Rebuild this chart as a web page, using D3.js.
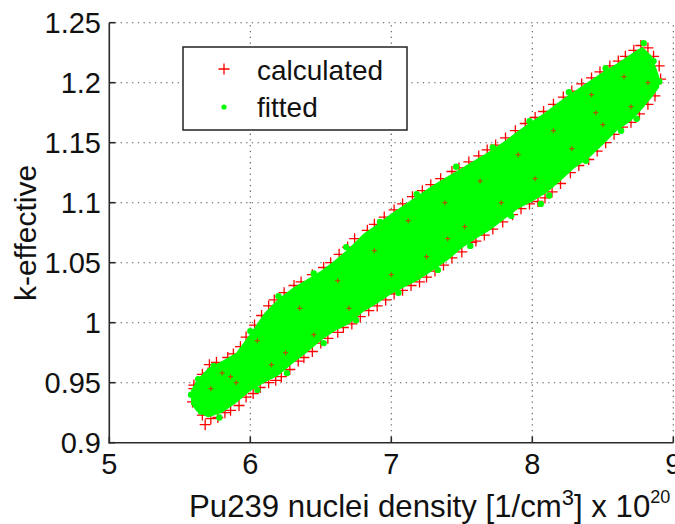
<!DOCTYPE html>
<html>
<head>
<meta charset="utf-8">
<script src="https://cdn.jsdelivr.net/npm/d3@7"></script>
<style>
  html, body { margin: 0; padding: 0; background: #fff; }
  svg { display: block; font-family: "Liberation Sans", Arial, sans-serif; }
</style>
</head>
<body>
<svg id="chart" width="675" height="524"></svg>
<script>
// ---- Data ----
const xTicks = [5, 6, 7, 8, 9];
const yTicks = [0.9, 0.95, 1.0, 1.05, 1.1, 1.15, 1.2, 1.25];
const yTickLabels = ["0.9", "0.95", "1", "1.05", "1.1", "1.15", "1.2", "1.25"];

// envelope of the dense "fitted" cloud (x, lower k, upper k)
const bandX    = [5.58, 5.62, 5.70, 5.80, 5.90, 6.00, 6.10, 6.20, 6.30, 6.40, 6.50, 6.60, 6.70, 6.80, 6.90, 7.00, 7.10, 7.20, 7.30, 7.40, 7.50, 7.60, 7.70, 7.80, 7.90, 8.00, 8.10, 8.20, 8.30, 8.40, 8.50, 8.60, 8.70, 8.78, 8.85, 8.90];
const bandLow  = [0.932, 0.926, 0.921, 0.925, 0.933, 0.943, 0.950, 0.956, 0.966, 0.975, 0.985, 0.993, 0.999, 1.009, 1.016, 1.024, 1.030, 1.036, 1.044, 1.052, 1.062, 1.070, 1.077, 1.086, 1.095, 1.101, 1.108, 1.118, 1.129, 1.137, 1.148, 1.160, 1.168, 1.178, 1.188, 1.196];
const bandHigh = [0.944, 0.952, 0.962, 0.968, 0.975, 0.991, 1.008, 1.020, 1.029, 1.036, 1.043, 1.052, 1.062, 1.074, 1.082, 1.091, 1.099, 1.107, 1.115, 1.122, 1.129, 1.136, 1.143, 1.151, 1.160, 1.168, 1.176, 1.185, 1.193, 1.201, 1.209, 1.216, 1.224, 1.230, 1.222, 1.205];

// calculated points visible around the cloud edges
const calcX = [5.60,5.66,5.71,5.76,5.84,5.88,5.93,5.97,6.03,6.08,6.13,6.17,6.24,6.31,6.36,6.44,6.52,6.57,6.63,6.69,6.74,6.83,6.88,6.95,7.02,7.08,7.15,7.22,7.28,7.35,7.43,7.48,7.55,7.62,7.68,7.74,7.81,7.88,7.95,8.02,8.08,8.15,8.22,8.28,8.35,8.42,8.48,8.55,8.61,8.66,8.72,8.77,8.82,8.86,8.90,8.91,
  5.62,5.66,5.68,5.72,5.77,5.82,5.86,5.92,5.97,6.02,6.07,6.13,6.18,6.22,6.28,6.34,6.38,6.44,6.50,6.55,6.62,6.66,6.72,6.78,6.84,6.90,6.96,7.02,7.08,7.14,7.20,7.25,7.31,7.37,7.43,7.50,7.57,7.60,7.66,7.72,7.79,7.86,7.92,7.98,8.04,8.09,8.14,8.20,8.27,8.33,8.40,8.46,8.52,8.58,8.64,8.70,8.76,8.82,8.87,
  5.61,5.60,5.59,5.70,5.75];
const calcK = [0.948,0.957,0.965,0.967,0.971,0.974,0.980,0.988,0.998,1.006,1.014,1.019,1.025,1.031,1.034,1.040,1.046,1.050,1.057,1.063,1.070,1.077,1.082,1.088,1.094,1.099,1.105,1.110,1.115,1.120,1.126,1.129,1.134,1.139,1.144,1.148,1.154,1.160,1.166,1.171,1.176,1.182,1.188,1.193,1.199,1.204,1.209,1.214,1.218,1.222,1.227,1.231,1.229,1.222,1.214,1.203,
  0.932,0.923,0.915,0.920,0.921,0.925,0.927,0.931,0.938,0.941,0.946,0.950,0.952,0.955,0.961,0.968,0.971,0.976,0.983,0.987,0.992,0.996,0.999,1.005,1.010,1.014,1.019,1.024,1.027,1.031,1.034,1.038,1.043,1.048,1.054,1.059,1.067,1.068,1.073,1.078,1.084,1.090,1.095,1.099,1.101,1.104,1.109,1.116,1.125,1.131,1.136,1.143,1.150,1.157,1.163,1.167,1.174,1.182,1.189,
  0.940,0.945,0.934,0.958,0.962];

// calculated points peeking through the inside of the cloud
const innerCalcX = [5.72,5.80,5.86,5.90,6.05,6.15,6.25,6.35,6.45,6.62,6.70,6.88,7.00,7.12,7.25,7.38,7.40,7.52,7.63,7.78,7.90,8.02,8.15,8.28,8.42,8.45,8.50,8.65,8.70,8.82];
const innerCalcK = [0.945,0.958,0.955,0.950,0.985,0.965,0.975,1.012,0.990,1.035,1.012,1.060,1.040,1.085,1.055,1.100,1.070,1.080,1.118,1.100,1.140,1.120,1.160,1.145,1.190,1.175,1.165,1.205,1.180,1.200];

// fitted points sticking out of the cloud edge
const fitX = [5.58,5.63,5.65,5.74,5.78,6.00,6.05,6.20,6.26,6.45,6.52,6.68,6.75,6.92,7.05,7.18,7.33,7.46,7.56,7.72,7.85,7.98,8.12,8.26,8.38,8.52,8.63,8.79,8.86,8.90,8.74,8.06];
const fitK = [0.940,0.953,0.926,0.964,0.921,0.993,0.944,1.022,0.958,1.041,0.983,1.063,1.002,1.084,1.025,1.107,1.044,1.130,1.064,1.146,1.089,1.168,1.106,1.192,1.135,1.212,1.160,1.233,1.218,1.201,1.170,1.099];

const seriesNames = ["calculated", "fitted"];
const xLabel = "Pu239 nuclei density [1/cm";
const yLabel = "k-effective";

// ---- Drawing ----
const svg = d3.select("#chart");
const L = 109.3, R = 673.3, T = 22.7, B = 442.7;
const x = d3.scaleLinear().domain([5, 9]).range([L, R]);
const y = d3.scaleLinear().domain([0.9, 1.25]).range([B, T]);
const red = "#ff0000", green = "#00ff00";

// grid
const grid = svg.append("g").attr("stroke", "#555").attr("stroke-width", 1.1).attr("stroke-dasharray", "1.3,4.4");
grid.selectAll(".gx").data(xTicks.slice(1)).join("line")
  .attr("x1", d => x(d)).attr("x2", d => x(d)).attr("y1", B).attr("y2", T);
grid.selectAll(".gy").data(yTicks.slice(1)).join("line")
  .attr("y1", d => y(d)).attr("y2", d => y(d)).attr("x1", L).attr("x2", R);

// calculated (+) markers
const plus = "M-5.5,0H5.5M0,-5.5V5.5";
const calc = calcX.map((v, i) => [v, calcK[i]]);
svg.append("g").selectAll("path").data(calc).join("path")
  .attr("d", plus).attr("transform", d => `translate(${x(d[0])},${y(d[1])})`)
  .attr("stroke", red).attr("stroke-width", 1.3).attr("fill", "none");

// fitted cloud
const band = bandX.map((v, i) => ({x: v, lo: bandLow[i], hi: bandHigh[i]}));
svg.append("path").datum(band)
  .attr("d", d3.area().x(d => x(d.x)).y0(d => y(d.lo)).y1(d => y(d.hi)).curve(d3.curveLinear))
  .attr("fill", green);

// fitted edge dots
const fit = fitX.map((v, i) => [v, fitK[i]]);
svg.append("g").selectAll("circle").data(fit).join("circle")
  .attr("cx", d => x(d[0])).attr("cy", d => y(d[1])).attr("r", 3.2).attr("fill", green);

// inner calculated specks
const inner = innerCalcX.map((v, i) => [v, innerCalcK[i]]);
svg.append("g").selectAll("path").data(inner).join("path")
  .attr("d", "M-2.5,0H2.5M0,-2.5V2.5").attr("transform", d => `translate(${x(d[0])},${y(d[1])})`)
  .attr("stroke", "#e02000").attr("stroke-width", 1.2).attr("fill", "none").attr("opacity", 0.75);

// axes lines
const ax = svg.append("g").attr("stroke", "#2a2a2a").attr("stroke-width", 1.6);
ax.append("line").attr("x1", L).attr("x2", L).attr("y1", T).attr("y2", B + 0.8);
ax.append("line").attr("x1", L - 0.8).attr("x2", R).attr("y1", B).attr("y2", B);
ax.selectAll(".tx").data(xTicks).join("line")
  .attr("x1", d => x(d)).attr("x2", d => x(d)).attr("y1", B).attr("y2", B - 6);
ax.selectAll(".ty").data(yTicks).join("line")
  .attr("y1", d => y(d)).attr("y2", d => y(d)).attr("x1", L).attr("x2", L + 6);

// tick labels
svg.append("g").selectAll("text").data(xTicks).join("text")
  .attr("x", d => x(d)).attr("y", 474).attr("text-anchor", "middle")
  .attr("font-size", 29).attr("fill", "#111").text(d => d);
svg.append("g").selectAll("text").data(yTicks).join("text")
  .attr("x", 101).attr("y", d => y(d) + 10.5).attr("text-anchor", "end")
  .attr("font-size", 29).attr("fill", "#111").text((d, i) => yTickLabels[i]);

// axis titles
const xt = svg.append("text").attr("x", 189).attr("y", 517).attr("font-size", 31.2).attr("fill", "#111");
xt.append("tspan").text(xLabel);
xt.append("tspan").attr("dy", -12).attr("font-size", 22).text("3");
xt.append("tspan").attr("dy", 12).text("] x 10");
xt.append("tspan").attr("dy", -14).attr("font-size", 18).text("20");

svg.append("text").attr("transform", "translate(36,233) rotate(-90)")
  .attr("text-anchor", "middle").attr("font-size", 30).attr("fill", "#111").text(yLabel);

// legend
const lg = svg.append("g");
lg.append("rect").attr("x", 183).attr("y", 47).attr("width", 224).attr("height", 83)
  .attr("fill", "#fff").attr("stroke", "#222").attr("stroke-width", 1.5);
lg.append("path").attr("d", plus).attr("transform", "translate(224,69)")
  .attr("stroke", red).attr("stroke-width", 1.3).attr("fill", "none");
lg.append("circle").attr("cx", 224).attr("cy", 107).attr("r", 2.6).attr("fill", green);
lg.selectAll("text").data(seriesNames).join("text")
  .attr("x", 257).attr("y", (d, i) => 80 + i * 37).attr("font-size", 28).attr("fill", "#111").text(d => d);
</script>
</body>
</html>
